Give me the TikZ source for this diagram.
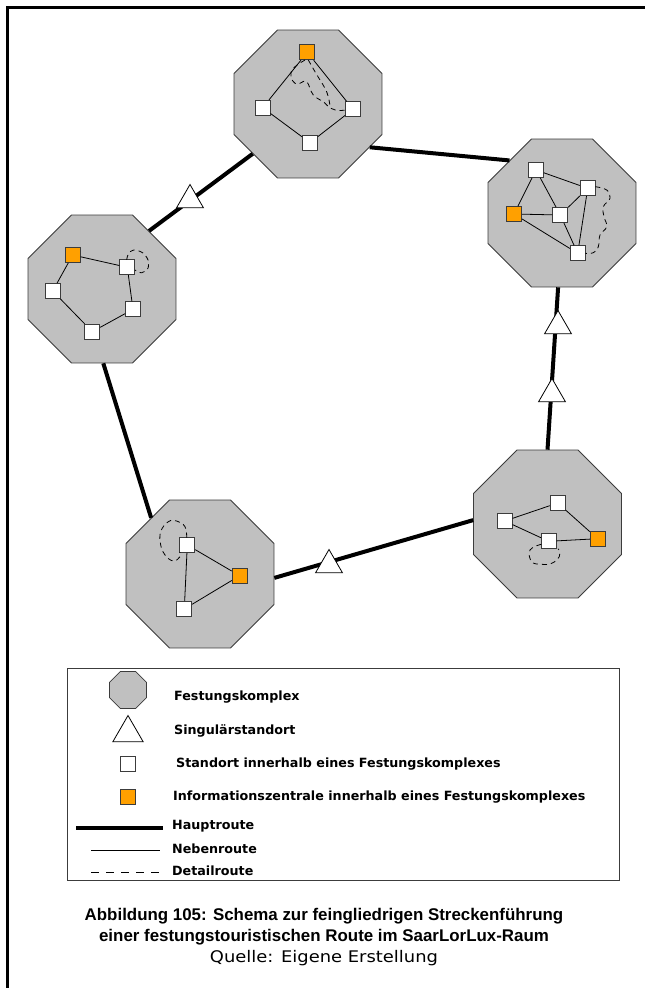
\documentclass[tikz,border=0pt]{standalone}
\usepackage{fontspec}
\setmainfont{DejaVu Sans}
\newfontfamily\capfont{Liberation Sans}
\newfontfamily\quellefont[FakeStretch=1.12]{DejaVu Sans}
\usetikzlibrary{shapes.geometric}
\definecolor{octfill}{RGB}{192,192,192}
\definecolor{octline}{RGB}{60,60,60}
\definecolor{infoorange}{RGB}{255,160,0}
\begin{document}
\begin{tikzpicture}[x=1pt,y=-1pt,
  oct/.style={regular polygon, regular polygon sides=8, minimum size=160pt, inner sep=0pt, draw=octline, fill=octfill, line width=0.8pt},
  tri/.style={regular polygon, regular polygon sides=3, minimum size=31pt, inner sep=0pt, draw=black, fill=white, line width=0.8pt},
  site/.style={rectangle, minimum size=15pt, inner sep=0pt, draw=octline, fill=white, line width=0.8pt},
  info/.style={site, fill=infoorange},
  mainroute/.style={line width=4pt},
  sideroute/.style={line width=0.8pt},
  detail/.style={dashed, dash pattern=on 5pt off 4pt, line width=0.8pt},
  legtext/.style={anchor=west, font=\fontsize{12.7}{14}\selectfont\bfseries, inner sep=0pt},
  captext/.style={font=\capfont\fontsize{16.9}{20}\selectfont\bfseries, inner sep=0pt},
]
\useasboundingbox[fill=white] (0,0) rectangle (645,988);
% frame
\draw[line width=2.5pt] (7.5,988) -- (7.5,7.5) -- (645,7.5);

% octagons
\node[oct] (o1) at (308,104) {};
\node[oct] (o2) at (562,213) {};
\node[oct] (o3) at (102,289) {};
\node[oct] (o4) at (200,574) {};
\node[oct] (o5) at (547.5,524) {};

% main routes
\draw[mainroute] (o1.-35.4) -- (o2.135);
\draw[mainroute] (o1.-138.3) -- (o3.51);
\draw[mainroute] (o3.-89) -- (o4.131.8);
\draw[mainroute] (o4.-3) -- (o5.177);
\draw[mainroute] (o5.90) -- (o2.-93);

% singular sites
\node[tri] (t1) at (190,200) {};
\node[tri] (t2) at (329,565) {};
\node[tri] (t3) at (558,326) {};
\node[tri] (t4) at (552,394) {};

% octagon 1
\node[info] (a1) at (307.3,52.3) {};
\node[site] (a2) at (262.7,107.7) {};
\node[site] (a3) at (353,109.3) {};
\node[site] (a4) at (310,142.7) {};
\draw[sideroute] (a1) -- (a2) -- (a4) -- (a3) -- (a1);
\draw[detail] plot[smooth, tension=0.7] coordinates {(305,60) (293.3,68.3) (291,76.7) (295,83.3) (300,83.3) (306.7,81.7) (313.3,95) (323.3,101.7) (330,108) (336.7,110.5) (345.5,110)};
\draw[detail] plot[smooth, tension=0.7] coordinates {(308.3,60) (315,71.7) (320,80) (325,88.3) (328.3,96.7) (330,106)};

% octagon 2
\node[site] (b1) at (536,170) {};
\node[site] (b2) at (587.7,188.3) {};
\node[info] (b3) at (514,214) {};
\node[site] (b4) at (560.3,215) {};
\node[site] (b5) at (577.7,253.3) {};
\draw[sideroute] (b1) -- (b3);
\draw[sideroute] (b1) -- (b4);
\draw[sideroute] (b1) -- (b2);
\draw[sideroute] (b3) -- (b4);
\draw[sideroute] (b3) -- (b5);
\draw[sideroute] (b4) -- (b2);
\draw[sideroute] (b4) -- (b5);
\draw[sideroute] (b2) -- (b5);
\draw[detail] plot[smooth, tension=0.7] coordinates {(595.3,186.7) (606.7,190) (610,198.3) (603.3,206.7) (604,216.7) (606.7,226.7) (600,235) (598.3,246.7) (593.3,252.7) (585.3,253.3)};

% octagon 3
\node[info] (c1) at (72.7,255) {};
\node[site] (c2) at (127.3,267.3) {};
\node[site] (c3) at (52.7,291) {};
\node[site] (c4) at (133,309.3) {};
\node[site] (c5) at (92.3,331.7) {};
\draw[sideroute] (c1) -- (c2) -- (c4) -- (c5) -- (c3) -- (c1);
\draw[detail] plot[smooth, tension=0.8] coordinates {(126.7,259.8) (130,251.7) (138.3,250.7) (146.7,257.3) (148.3,267.3) (141.7,272.7) (135,270)};

% octagon 4
\node[site] (d1) at (187.3,545) {};
\node[info] (d2) at (239.7,575.7) {};
\node[site] (d3) at (184.3,609) {};
\draw[sideroute] (d1) -- (d2) -- (d3) -- (d1);
\draw[detail] plot[smooth, tension=0.7] coordinates {(186.7,537.5) (185,526.7) (176.7,521) (168.3,521.7) (160.7,531.7) (160.7,545) (165,555) (173.3,561) (180,556.7) (179.8,552.3)};

% octagon 5
\node[site] (e1) at (504.7,521) {};
\node[site] (e2) at (557.7,503) {};
\node[site] (e3) at (548.7,541.3) {};
\node[info] (e4) at (597.7,538.7) {};
\draw[sideroute] (e1) -- (e2) -- (e4) -- (e3) -- (e1);
\draw[detail] plot[smooth, tension=0.7] coordinates {(541.2,544.3) (530,550) (531.7,561.7) (541.7,564.3) (551.7,563.3) (559.3,556.7) (558.3,548.8)};

% legend
\draw[line width=0.8pt, draw=octline] (67,668) rectangle (619,880);
\node[oct, minimum size=40pt] (lo) at (128,690) {};
\node[tri, minimum size=35pt] (lt) at (128,733) {};
\node[site, minimum size=15pt] (ls) at (128,764) {};
\node[info, minimum size=15pt] (li) at (128,797) {};
\coordinate (h1) at (76,828);  \coordinate (h2) at (163,828);
\coordinate (n1) at (91,850);  \coordinate (n2) at (160,850);
\coordinate (dd1) at (91,872); \coordinate (dd2) at (160,872);
\draw[mainroute] (h1) -- (h2);
\draw[sideroute] (n1) -- (n2);
\draw[detail, dash pattern=on 8pt off 7pt] (dd1) -- (dd2);
\node[legtext] (l1) at (174,697) {Festungskomplex};
\node[legtext] (l2) at (174,731) {Singulärstandort};
\node[legtext] (l3) at (176,764) {Standort innerhalb eines Festungskomplexes};
\node[legtext] (l4) at (173,797) {Informationszentrale innerhalb eines Festungskomplexes};
\node[legtext] (l5) at (172,826) {Hauptroute};
\node[legtext] (l6) at (172,849) {Nebenroute};
\node[legtext] (l7) at (172,871) {Detailroute};

% caption
\node[captext] (cap1) at (324,916) {Abbildung 105: Schema zur feingliedrigen Streckenführung};
\node[captext] (cap2) at (324,937) {einer festungstouristischen Route im SaarLorLux-Raum};
\node[font=\quellefont\fontsize{16}{19}\selectfont, inner sep=0pt] (cap3) at (324,958) {Quelle: Eigene Erstellung};
\end{tikzpicture}
\end{document}
